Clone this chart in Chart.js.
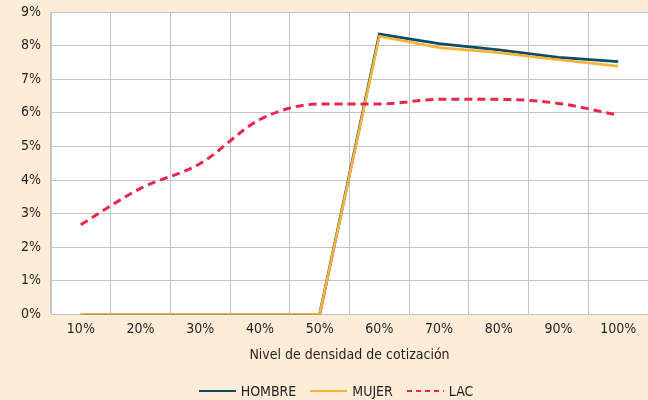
<!DOCTYPE html>
<html><head><meta charset="utf-8">
<script src="https://cdn.jsdelivr.net/npm/chart.js@4/dist/chart.umd.min.js"></script>
<style>
html,body{margin:0;padding:0;background:#fdecd8;}
#w{position:relative;width:648px;height:400px;}
#c{position:absolute;left:0;top:0;}
#lg{position:absolute;left:0;top:382px;width:672px;height:18px;display:flex;justify-content:center;align-items:center;
  font-family:'Liberation Sans Narrow','DejaVu Sans Condensed',Roboto,sans-serif;font-size:14px;color:#231f20;}
#lg .it{display:flex;align-items:center;margin:0 7px;}
#lg svg{margin-right:5px;}
</style>
</head><body><div id="w"><canvas id="c" width="648" height="400"></canvas><div id="lg"></div></div>
<script>
const categories = ["10%","20%","30%","40%","50%","60%","70%","80%","90%","100%"];
const hombre = [0,0,0,0,0,8.34,8.06,7.87,7.65,7.52];
const mujer  = [0,0,0,0,0,8.28,7.94,7.79,7.58,7.39];
const lac    = [2.67,3.75,4.49,5.80,6.26,6.26,6.40,6.40,6.28,5.93];
const yTicks = [0,1,2,3,4,5,6,7,8,9];
const seriesNames = ['HOMBRE','MUJER','LAC'];
const FONT = "'Liberation Sans Narrow','DejaVu Sans Condensed','Roboto',sans-serif";
const TXT = '#231f20';
const bgPlugin = {id:'bg', beforeDraw(ch){const {ctx,chartArea:a}=ch;ctx.save();ctx.fillStyle='#ffffff';ctx.fillRect(a.left,a.top,a.right-a.left,a.bottom-a.top);ctx.restore();}};
const chart = new Chart(document.getElementById('c'),{
  type:'line',
  data:{labels:categories,datasets:[
    {label:seriesNames[0],data:hombre,borderColor:'#0f4c63',backgroundColor:'#0f4c63',borderWidth:2.8,pointRadius:0,tension:0,order:3},
    {label:seriesNames[1],data:mujer,borderColor:'#f7b33d',backgroundColor:'#f7b33d',borderWidth:2.6,pointRadius:0,tension:0,order:2},
    {label:seriesNames[2],data:lac,borderColor:'#e8274b',backgroundColor:'#e8274b',borderWidth:3,borderDash:[8,5],pointRadius:0,cubicInterpolationMode:'monotone',order:1}
  ]},
  options:{
    responsive:false,animation:false,
    layout:{padding:{top:12,right:0,left:0,bottom:36}},
    plugins:{legend:{display:false},tooltip:{enabled:false}},
    scales:{
      x:{offset:true,grid:{offset:true,color:'#c4c4c4',lineWidth:1,drawTicks:false},border:{color:'#c4c4c4'},
        ticks:{color:TXT,font:{family:FONT,size:14},padding:7,maxRotation:0},
        title:{display:true,text:'Nivel de densidad de cotización',color:TXT,font:{family:FONT,size:14},padding:{top:2,bottom:0}}},
      y:{min:0,max:9,afterFit(s){s.width=51;s.paddingTop=0;s.paddingBottom=0;},afterBuildTicks(s){s.ticks=yTicks.map(v=>({value:v}));},
        grid:{color:'#c4c4c4',lineWidth:1,drawTicks:false},border:{color:'#c4c4c4'},
        ticks:{color:TXT,font:{family:FONT,size:14},padding:10,callback:v=>v+'%'}}
    }
  },
  plugins:[bgPlugin]
});
// HTML legend built from the chart's datasets
const lg = document.getElementById('lg');
chart.data.datasets.forEach(ds=>{
  const it = document.createElement('span'); it.className='it';
  const dash = ds.borderDash ? 'stroke-dasharray="5 4"' : '';
  it.innerHTML = `<svg width="37" height="6"><line x1="0" y1="3" x2="37" y2="3" stroke="${ds.borderColor}" stroke-width="2.2" ${dash}/></svg>`;
  const t = document.createElement('span'); t.textContent = ds.label; it.appendChild(t);
  lg.appendChild(it);
});
</script></body></html>
